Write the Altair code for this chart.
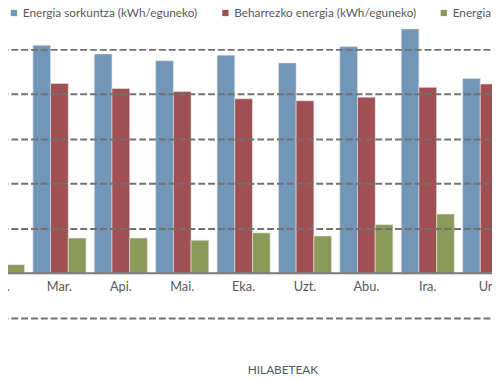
import altair as alt
import pandas as pd

months = ["Ots.", "Mar.", "Api.", "Mai.", "Eka.", "Uzt.", "Abu.", "Ira.", "Urr."]
series = ["Energia sorkuntza (kWh/eguneko)",
          "Beharrezko energia (kWh/eguneko)",
          "Energia balantzea (kWh/eguneko)"]
sorkuntza = [8.86, 10.18, 9.79, 9.49, 9.74, 9.39, 10.12, 10.91, 8.70]
beharrezko = [8.48, 8.47, 8.25, 8.11, 7.79, 7.70, 7.86, 8.30, 8.45]
balantzea = [0.38, 1.57, 1.57, 1.47, 1.80, 1.66, 2.17, 2.64, 0.25]
colors = ["#7196B8", "#A04F52", "#8B9A58"]

rows = []
for i, m in enumerate(months):
    for s, vals in zip(series, [sorkuntza, beharrezko, balantzea]):
        rows.append({"month": m, "series": s, "value": vals[i]})
df = pd.DataFrame(rows)

FONT = "Lato"
GREY = "#595959"

chart = alt.Chart(df).mark_bar(stroke="#e6e6e6", strokeWidth=0.6, clip=True).encode(
    x=alt.X("month:N", sort=months,
            scale=alt.Scale(range=[-37.1, 516.1], paddingInner=0.135, paddingOuter=0),
            axis=alt.Axis(title="HILABETEAK", orient="bottom", offset=-46,
                          labelAngle=0, labelFontSize=13, labelColor=GREY, labelFont=FONT,
                          labelPadding=8, ticks=False,
                          domainColor="#7a7a7a", domainWidth=2,
                          titleFont=FONT, titleFontSize=12, titleFontWeight="normal",
                          titleColor=GREY, titleX=279, titleY=98, titleBaseline="middle",
                          titleAnchor="middle", zindex=1)),
    xOffset=alt.XOffset("series:N", sort=series, scale=alt.Scale(paddingInner=0, paddingOuter=0)),
    y=alt.Y("value:Q", scale=alt.Scale(domain=[-2, 11.71], nice=False, zero=False),
            axis=alt.Axis(values=[-2, 2, 4, 6, 8, 10], labels=False, ticks=False, domain=False,
                          title=None, grid=True, gridDash=[7, 3], gridColor="#727272",
                          gridWidth=2, zindex=1)),
    color=alt.Color("series:N", sort=series,
                    scale=alt.Scale(domain=series, range=colors),
                    legend=alt.Legend(title=None, orient="none", direction="horizontal",
                                      legendX=0, legendY=-4, symbolType="square",
                                      symbolSize=40, symbolStrokeWidth=0,
                                      labelFont=FONT, labelFontSize=12, labelColor=GREY,
                                      labelLimit=0,
                                      labelOffset=3, columnPadding=22, padding=0)),
).properties(
    width=492, height=312,
    autosize=alt.AutoSizeParams(type="none"),
    padding={"left": 0, "top": 0, "right": 0, "bottom": 60},
).configure_view(stroke=None)

chart.save("out.html", embed_options={"renderer": "svg", "actions": False})
